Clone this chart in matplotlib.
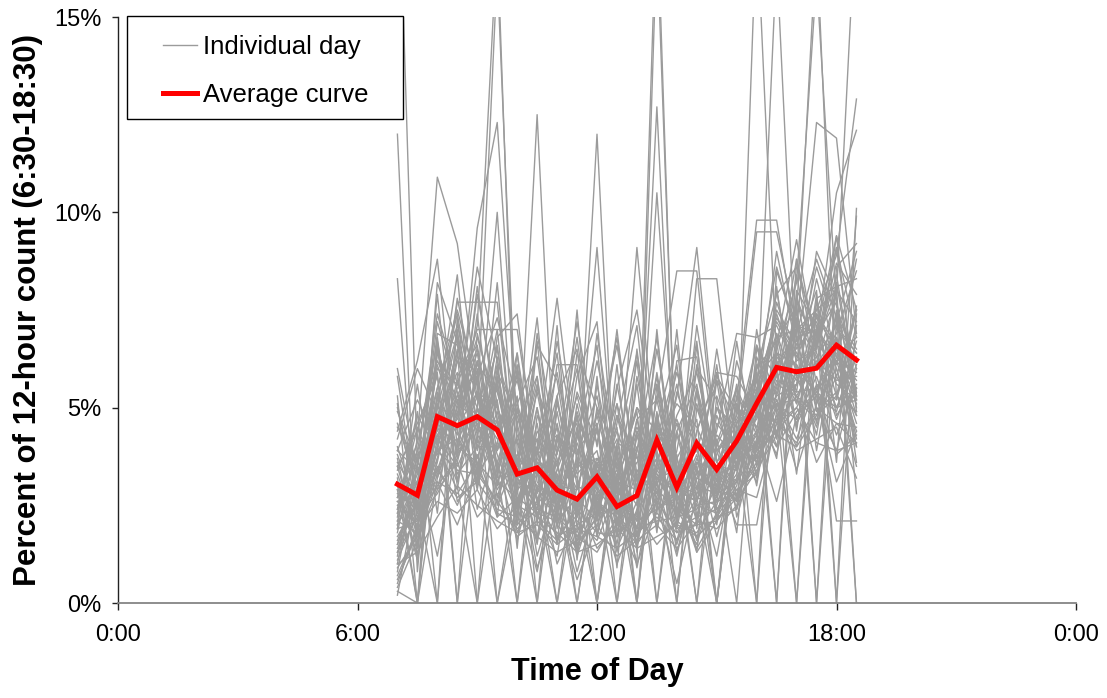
import matplotlib
matplotlib.use("Agg")
import matplotlib.pyplot as plt
import matplotlib.patches as patches
from matplotlib.lines import Line2D

plt.rcParams['font.family'] = ['Liberation Sans', 'DejaVu Sans']

# half-hour end times, hours after midnight
half_hours = [7.0, 7.5, 8.0, 8.5, 9.0, 9.5, 10.0, 10.5, 11.0, 11.5, 12.0, 12.5,
              13.0, 13.5, 14.0, 14.5, 15.0, 15.5, 16.0, 16.5, 17.0, 17.5, 18.0, 18.5]

# percent of the 12-hour count in each half hour
average_curve = [3.04, 2.76, 4.77, 4.54, 4.77, 4.43, 3.30, 3.46, 2.89, 2.66, 3.23, 2.47,
                 2.75, 4.17, 2.96, 4.09, 3.42, 4.15, 5.11, 6.03, 5.92, 6.01, 6.60, 6.22]

day_01 = [3.1, 1.2, 6.4, 5.2, 2.9, 5.8, 3.6, 1.7, 4.3, 2.4, 4.6, 1.3, 3.9, 5.6, 2.0, 5.4, 2.1, 4.4, 6.6, 4.3, 7.9, 5.1, 8.2, 5.2]
day_02 = [2.2, 4.8, 3.9, 6.3, 5.9, 2.7, 4.6, 2.3, 1.2, 4.4, 2.5, 3.6, 1.4, 4.6, 3.7, 2.1, 5.0, 3.8, 4.1, 8.0, 5.1, 7.0, 5.3, 7.6]
day_03 = [12.0, 0.8, 6.5, 3.3, 4.0, 6.1, 2.0, 4.4, 3.6, 1.2, 2.8, 3.4, 1.9, 4.9, 2.2, 3.7, 2.6, 5.1, 4.0, 5.3, 7.2, 6.3, 4.7, 6.1]
day_04 = [0.5, 2.0, 3.6, 6.2, 5.0, 3.2, 6.0, 1.6, 3.4, 4.8, 1.7, 3.9, 0.9, 3.5, 5.6, 2.9, 4.2, 1.8, 6.5, 5.8, 8.8, 6.0, 9.4, 4.9]
day_05 = [4.6, 3.0, 7.2, 5.4, 3.7, 5.2, 1.8, 2.9, 5.1, 3.3, 3.9, 1.5, 4.3, 2.4, 2.7, 6.1, 3.1, 5.6, 3.2, 6.9, 4.5, 7.7, 6.0, 4.4]
day_06 = [20.0, 3.5, 1.2, 4.1, 5.4, 2.5, 3.7, 0.9, 2.4, 4.5, 1.8, 3.3, 2.5, 4.6, 1.3, 3.2, 2.9, 5.1, 3.0, 6.2, 4.6, 5.5, 3.8, 4.3]
day_07 = [8.3, 1.5, 4.0, 2.9, 6.2, 4.4, 2.2, 5.0, 2.6, 1.3, 3.6, 1.7, 4.7, 2.8, 3.3, 1.6, 4.6, 3.9, 5.2, 3.7, 7.8, 6.5, 8.7, 7.9]
day_08 = [1.8, 4.2, 10.9, 9.2, 5.5, 3.8, 2.4, 4.6, 1.6, 2.5, 3.1, 4.2, 1.5, 3.6, 2.6, 1.4, 2.3, 3.8, 5.7, 4.0, 6.8, 4.6, 7.5, 5.3]
day_09 = [2.9, 0.0, 3.2, 4.8, 7.1, 17.0, 2.5, 3.3, 2.0, 1.4, 2.2, 3.0, 1.8, 2.7, 1.6, 3.4, 2.8, 3.1, 3.9, 4.7, 5.8, 4.5, 6.6, 4.8]
day_10 = [3.6, 2.7, 5.3, 4.3, 9.6, 12.3, 4.5, 1.2, 3.0, 1.8, 3.4, 2.3, 1.6, 3.2, 2.4, 1.5, 3.3, 2.6, 4.1, 5.2, 3.4, 5.1, 6.0, 4.0]
day_11 = [1.2, 3.8, 4.4, 7.7, 7.7, 7.7, 3.0, 4.0, 1.5, 3.6, 2.9, 1.0, 2.4, 3.1, 1.2, 3.6, 3.4, 2.9, 2.7, 4.6, 5.3, 3.6, 4.6, 4.1]
day_12 = [2.5, 3.1, 6.0, 5.6, 7.0, 7.0, 7.0, 3.6, 3.2, 0.8, 2.6, 2.2, 1.0, 2.4, 2.8, 1.7, 2.2, 3.5, 4.3, 2.6, 4.8, 5.3, 3.1, 4.4]
day_13 = [5.1, 2.2, 3.0, 3.7, 4.9, 16.2, 3.9, 1.5, 4.9, 2.2, 3.6, 2.7, 4.0, 1.9, 4.3, 2.5, 2.6, 2.8, 3.5, 4.8, 3.9, 4.2, 4.5, 3.2]
day_14 = [1.6, 2.9, 4.7, 6.8, 4.1, 10.0, 2.8, 12.5, 2.1, 2.7, 1.4, 2.0, 1.7, 2.6, 1.9, 2.2, 2.4, 2.7, 3.8, 4.4, 5.0, 4.1, 3.9, 4.1]
day_15 = [3.4, 4.6, 5.8, 2.6, 3.2, 5.6, 3.4, 2.4, 6.1, 6.1, 2.3, 4.8, 2.7, 5.9, 2.9, 2.6, 5.0, 4.5, 3.3, 5.4, 7.3, 4.9, 5.4, 3.5]
day_16 = [0.9, 1.7, 3.3, 5.0, 6.4, 3.5, 2.3, 5.5, 4.0, 2.9, 12.0, 1.8, 2.3, 4.8, 2.6, 3.8, 1.7, 3.6, 6.1, 4.9, 5.6, 7.4, 4.8, 5.6]
day_17 = [4.0, 2.4, 5.1, 3.9, 5.3, 4.6, 3.3, 2.7, 2.3, 3.4, 9.1, 2.5, 9.1, 3.6, 1.8, 2.7, 2.5, 4.1, 3.6, 5.1, 4.7, 5.8, 4.3, 5.5]
day_18 = [2.0, 3.3, 4.2, 3.5, 4.6, 2.9, 3.8, 3.0, 2.7, 2.1, 1.6, 2.9, 2.1, 18.0, 2.4, 2.0, 3.0, 2.6, 3.4, 4.3, 4.0, 4.8, 5.3, 4.9]
day_19 = [3.3, 1.9, 4.5, 6.4, 3.9, 5.7, 2.6, 4.2, 2.4, 0.6, 2.0, 3.2, 1.0, 17.0, 2.8, 1.3, 2.1, 2.9, 3.3, 4.6, 4.1, 5.0, 4.6, 4.5]
day_20 = [1.4, 2.6, 3.9, 4.2, 3.3, 4.1, 3.2, 2.3, 3.1, 1.7, 2.7, 1.4, 2.6, 12.7, 2.2, 3.0, 2.8, 3.6, 4.1, 5.7, 5.4, 5.5, 6.4, 5.7]
day_21 = [2.7, 3.9, 5.0, 4.8, 6.2, 3.3, 4.9, 3.8, 5.9, 3.0, 4.4, 2.6, 2.2, 10.5, 3.1, 5.5, 2.4, 3.2, 4.4, 5.1, 5.2, 4.7, 5.8, 4.8]
day_22 = [3.8, 2.3, 4.3, 3.1, 5.0, 4.2, 4.1, 2.6, 4.2, 3.8, 5.3, 2.3, 4.7, 5.2, 8.5, 8.5, 3.6, 3.1, 4.8, 4.0, 4.9, 5.4, 5.0, 5.2]
day_23 = [2.4, 3.7, 3.8, 5.3, 4.8, 3.9, 5.1, 3.4, 5.3, 2.3, 4.9, 3.2, 4.5, 3.4, 2.7, 8.3, 8.3, 3.7, 4.0, 5.6, 5.3, 6.2, 5.7, 5.8]
day_24 = [1.9, 2.1, 4.6, 4.0, 3.6, 3.0, 3.5, 5.8, 1.9, 4.8, 2.1, 5.1, 3.2, 3.0, 5.3, 9.1, 3.9, 4.3, 4.7, 6.3, 5.7, 6.6, 6.2, 5.5]
day_25 = [1.0, 1.3, 2.2, 3.0, 2.5, 2.1, 1.8, 2.0, 1.5, 1.9, 1.7, 1.4, 1.8, 2.2, 1.6, 2.5, 2.3, 3.1, 17.5, 6.2, 5.1, 7.0, 6.3, 6.8]
day_26 = [2.6, 2.0, 3.4, 2.7, 3.1, 2.4, 2.2, 1.7, 1.3, 1.6, 2.0, 1.2, 1.6, 2.0, 1.4, 2.1, 1.9, 2.5, 4.9, 16.5, 5.8, 6.3, 7.1, 6.4]
day_27 = [0.7, 1.9, 2.6, 2.3, 2.9, 1.9, 2.5, 2.2, 1.8, 1.3, 1.5, 1.9, 1.4, 1.7, 2.0, 1.8, 2.6, 3.3, 5.3, 4.6, 7.4, 17.0, 5.2, 7.5]
day_28 = [1.5, 2.8, 3.1, 2.0, 3.4, 2.6, 1.9, 2.4, 2.2, 1.7, 1.3, 2.2, 1.5, 2.3, 1.8, 2.0, 2.1, 2.7, 4.2, 6.5, 8.2, 16.0, 7.6, 6.0]
day_29 = [0.4, 1.6, 2.9, 3.6, 2.2, 2.8, 1.7, 2.1, 1.6, 2.4, 1.8, 1.7, 2.3, 1.5, 2.1, 1.7, 2.2, 2.4, 3.9, 4.4, 5.6, 6.1, 7.9, 18.0]
day_30 = [2.8, 2.4, 3.7, 5.2, 3.0, 4.7, 2.4, 3.5, 1.0, 2.2, 4.5, 1.8, 3.4, 2.8, 4.6, 3.1, 1.2, 4.0, 5.4, 6.8, 7.0, 12.3, 11.9, 6.9]
day_31 = [1.3, 2.2, 2.8, 3.8, 4.7, 3.1, 2.7, 0.8, 3.3, 1.5, 2.2, 4.0, 1.7, 2.6, 0.5, 2.8, 3.5, 3.4, 5.1, 7.2, 6.3, 7.5, 8.9, 12.9]
day_32 = [2.1, 1.8, 3.5, 2.5, 3.8, 2.3, 2.0, 2.6, 1.7, 2.0, 2.3, 2.4, 1.9, 2.1, 2.2, 2.4, 3.4, 4.2, 6.0, 7.9, 8.6, 6.8, 10.5, 12.1]
day_33 = [3.0, 2.1, 3.9, 3.4, 3.3, 2.6, 4.3, 2.9, 2.4, 4.1, 2.6, 2.0, 4.3, 2.9, 2.4, 3.3, 4.0, 5.2, 9.8, 9.8, 6.7, 7.3, 6.5, 5.1]
day_34 = [2.3, 1.7, 3.1, 2.8, 3.6, 2.2, 2.7, 2.3, 2.1, 2.7, 2.1, 2.6, 2.1, 2.4, 2.9, 2.6, 3.8, 4.8, 9.5, 9.5, 7.1, 6.9, 7.7, 5.0]
day_35 = [4.9, 3.6, 5.5, 7.1, 5.2, 4.5, 5.8, 3.7, 3.1, 4.9, 3.2, 3.0, 5.0, 4.4, 3.4, 3.9, 5.7, 4.6, 5.5, 5.2, 4.2, 5.6, 2.1, 2.1]
day_36 = [3.5, 4.4, 6.2, 5.1, 4.7, 6.5, 3.4, 4.2, 3.5, 5.3, 3.4, 2.7, 3.6, 4.0, 5.1, 4.5, 3.3, 2.0, 2.0, 4.9, 5.9, 6.0, 6.8, 5.4]
day_37 = [2.9, 3.1, 4.8, 4.5, 5.4, 5.0, 3.7, 3.3, 2.9, 3.5, 3.7, 3.1, 2.9, 4.3, 3.0, 4.1, 3.9, 4.7, 5.8, 6.4, 6.1, 5.3, 7.4, 0.0]
day_38 = [1.7, 2.6, 0.0, 5.8, 6.6, 3.4, 0.0, 4.8, 3.7, 0.0, 3.5, 2.9, 0.0, 4.5, 3.5, 0.0, 4.1, 5.5, 0.0, 6.7, 7.6, 0.0, 8.6, 9.2]
day_39 = [0.3, 0.0, 5.4, 0.0, 4.3, 6.6, 2.9, 0.0, 5.2, 2.5, 0.0, 4.1, 3.8, 0.0, 4.4, 2.7, 0.0, 4.6, 5.9, 0.0, 8.0, 7.1, 0.0, 10.1]
day_40 = [5.3, 0.0, 6.8, 3.0, 0.0, 5.9, 4.8, 2.7, 0.0, 3.9, 4.6, 0.0, 4.4, 3.1, 0.0, 5.0, 3.4, 0.0, 6.3, 5.0, 0.0, 7.8, 8.1, 8.3]
day_41 = [2.4, 4.9, 0.0, 7.3, 3.5, 0.0, 3.3, 5.4, 2.8, 0.0, 3.3, 4.5, 0.0, 5.6, 3.2, 4.2, 0.0, 5.0, 3.7, 6.1, 0.0, 6.9, 9.4, 7.5]
day_42 = [0.8, 3.5, 5.9, 0.0, 6.9, 4.7, 0.0, 3.8, 4.3, 3.2, 0.0, 3.3, 4.9, 0.0, 3.8, 0.0, 5.3, 3.9, 0.0, 8.5, 7.0, 0.0, 7.2, 9.0]
day_43 = [3.9, 5.2, 4.1, 6.5, 0.0, 3.6, 5.3, 0.0, 3.9, 4.6, 0.0, 3.8, 0.0, 4.8, 0.0, 5.5, 3.6, 4.4, 5.3, 0.0, 8.8, 6.6, 8.1, 0.0]
day_44 = [1.1, 2.3, 4.0, 5.5, 5.8, 0.0, 2.6, 3.9, 2.0, 3.7, 2.8, 0.0, 3.4, 3.3, 2.9, 3.5, 0.0, 4.2, 5.0, 7.5, 6.6, 8.0, 0.0, 7.4]
day_45 = [6.0, 3.3, 5.2, 7.4, 4.5, 4.4, 5.7, 3.4, 3.3, 1.6, 2.8, 4.4, 3.0, 3.7, 4.6, 3.4, 2.9, 3.9, 6.6, 5.3, 5.6, 8.3, 6.3, 5.9]
day_46 = [2.6, 2.8, 6.9, 6.6, 4.3, 3.6, 1.6, 3.6, 2.7, 4.3, 2.9, 2.3, 2.8, 3.7, 1.5, 3.2, 4.3, 3.7, 4.4, 7.7, 6.2, 6.5, 9.1, 5.3]
day_47 = [3.7, 1.4, 4.2, 4.7, 6.1, 5.4, 3.5, 5.6, 3.0, 2.9, 4.8, 2.8, 2.7, 5.2, 2.8, 3.6, 2.7, 5.5, 4.3, 5.5, 8.4, 5.6, 5.2, 7.1]
day_48 = [1.5, 3.0, 3.4, 4.9, 3.1, 6.0, 3.2, 2.5, 4.6, 2.2, 3.7, 2.6, 4.4, 3.2, 3.4, 5.1, 3.3, 3.5, 5.7, 8.6, 6.8, 7.0, 6.1, 8.8]
day_49 = [5.8, 2.4, 7.9, 3.1, 6.0, 2.2, 6.4, 2.0, 7.1, 1.1, 5.8, 0.9, 6.5, 2.3, 7.0, 1.9, 5.7, 2.6, 7.0, 4.2, 7.6, 3.9, 6.8, 4.0]
day_50 = [1.9, 5.6, 2.3, 7.0, 3.0, 6.3, 1.4, 6.7, 2.1, 7.5, 1.7, 6.1, 1.3, 7.0, 2.0, 6.6, 2.8, 6.7, 3.5, 8.1, 4.4, 7.9, 3.6, 9.9]
day_51 = [0.6, 1.8, 8.2, 6.7, 3.5, 4.9, 2.6, 1.6, 5.3, 6.5, 2.4, 5.5, 7.5, 3.9, 1.9, 4.4, 5.8, 4.9, 3.9, 6.6, 9.3, 6.4, 5.0, 6.3]
day_52 = [4.2, 6.0, 4.8, 5.9, 2.4, 4.1, 6.4, 3.1, 2.5, 5.8, 7.2, 2.0, 5.6, 1.8, 6.2, 6.3, 2.2, 3.0, 5.3, 6.9, 5.4, 9.0, 7.8, 2.8]
day_53 = [2.1, 3.9, 6.7, 3.8, 7.4, 3.4, 5.9, 2.1, 4.1, 6.0, 2.2, 5.6, 2.9, 6.5, 3.5, 1.3, 5.9, 5.8, 4.8, 6.1, 6.9, 8.8, 7.3, 6.5]
day_54 = [3.2, 0.0, 5.0, 6.9, 4.7, 5.5, 2.9, 3.4, 0.0, 3.0, 2.7, 3.2, 2.1, 5.3, 3.7, 4.7, 0.0, 4.3, 5.4, 7.4, 5.9, 6.7, 9.1, 6.8]
day_55 = [1.3, 2.7, 4.5, 3.6, 5.8, 7.3, 5.1, 6.3, 2.8, 5.4, 4.1, 6.6, 3.3, 2.7, 5.4, 3.9, 2.6, 2.8, 3.6, 5.0, 7.7, 6.6, 8.4, 5.3]
day_56 = [4.5, 3.6, 2.9, 5.1, 6.8, 5.0, 3.6, 6.6, 5.7, 2.5, 6.9, 3.4, 5.0, 3.8, 2.1, 4.4, 5.9, 3.7, 4.9, 4.6, 5.0, 6.1, 6.9, 8.5]
day_57 = [2.7, 4.1, 6.1, 4.4, 3.4, 8.2, 2.8, 5.0, 1.6, 5.1, 2.9, 4.8, 3.7, 4.2, 6.1, 2.6, 4.4, 6.9, 6.8, 7.1, 6.0, 5.4, 6.2, 4.6]
day_58 = [3.0, 1.1, 3.7, 5.7, 4.0, 4.0, 4.9, 3.9, 6.4, 1.9, 5.0, 3.9, 6.4, 3.0, 4.8, 5.9, 3.6, 4.6, 5.2, 9.0, 6.5, 7.2, 5.8, 7.5]
day_59 = [0.2, 2.9, 5.5, 7.5, 5.6, 3.1, 4.2, 2.2, 3.6, 4.7, 3.5, 5.1, 1.7, 3.4, 4.7, 3.3, 6.1, 2.2, 4.0, 5.9, 7.0, 7.5, 8.0, 7.2]
day_60 = [3.9, 3.4, 4.3, 5.3, 6.5, 3.9, 6.1, 2.8, 4.5, 1.4, 5.6, 3.0, 6.2, 1.9, 3.9, 6.7, 2.0, 5.3, 4.5, 5.8, 6.2, 8.6, 7.0, 6.4]
day_61 = [4.4, 6.2, 8.8, 4.0, 7.9, 5.1, 2.0, 6.9, 3.8, 7.2, 4.0, 6.8, 3.1, 5.8, 2.6, 7.1, 3.9, 2.4, 4.9, 3.8, 6.1, 4.3, 7.4, 3.6]
day_62 = [2.0, 3.1, 5.0, 8.4, 3.2, 6.8, 7.4, 3.3, 6.7, 3.9, 2.1, 4.6, 7.1, 2.5, 4.4, 5.6, 2.7, 4.0, 3.1, 6.4, 5.3, 4.8, 6.3, 5.5]
day_63 = [3.5, 1.7, 6.6, 3.7, 8.1, 4.7, 3.5, 7.3, 2.2, 6.4, 5.0, 2.9, 3.9, 6.8, 3.0, 2.8, 6.5, 3.4, 5.8, 4.2, 7.1, 5.0, 3.9, 6.0]
day_64 = [1.0, 3.6, 7.4, 5.6, 4.4, 7.0, 2.4, 4.0, 7.8, 3.6, 6.2, 3.7, 1.9, 4.0, 5.9, 4.1, 3.0, 6.2, 4.4, 5.1, 4.0, 6.9, 5.6, 5.2]
day_65 = [5.0, 2.8, 4.0, 7.8, 5.3, 3.0, 5.0, 2.6, 3.4, 6.8, 3.0, 7.0, 2.7, 4.6, 6.6, 2.2, 4.8, 3.5, 6.0, 6.7, 3.3, 7.4, 6.6, 4.2]
day_66 = [2.3, 4.5, 3.2, 4.8, 8.6, 6.2, 4.6, 5.8, 2.3, 4.2, 6.6, 1.7, 5.8, 3.3, 2.2, 6.0, 5.2, 2.7, 5.5, 7.3, 6.4, 5.3, 4.9, 6.7]

days = [day_01, day_02, day_03, day_04, day_05, day_06, day_07, day_08, day_09, day_10,
        day_11, day_12, day_13, day_14, day_15, day_16, day_17, day_18, day_19, day_20,
        day_21, day_22, day_23, day_24, day_25, day_26, day_27, day_28, day_29, day_30,
        day_31, day_32, day_33, day_34, day_35, day_36, day_37, day_38, day_39, day_40,
        day_41, day_42, day_43, day_44, day_45, day_46, day_47, day_48, day_49, day_50,
        day_51, day_52, day_53, day_54, day_55, day_56, day_57, day_58, day_59, day_60,
        day_61, day_62, day_63, day_64, day_65, day_66]

x_ticks = [0, 6, 12, 18, 24]
x_tick_labels = ['0:00', '6:00', '12:00', '18:00', '0:00']
y_ticks = [0, 5, 10, 15]
y_tick_labels = ['0%', '5%', '10%', '15%']

fig = plt.figure(figsize=(11.07, 6.98), dpi=100)
ax = fig.add_axes([118 / 1107, 95 / 698, 958 / 1107, 586 / 698])

gray = '#9b9b9b'
for d in days:
    ax.plot(half_hours, d, color=gray, linewidth=1.0, zorder=2)
ax.plot(half_hours, average_curve, color='#ff0000', linewidth=3.6,
        solid_joinstyle='miter', zorder=3)

ax.set_xlim(0, 24)
ax.set_ylim(0, 15)
ax.set_xticks(x_ticks)
ax.set_xticklabels(x_tick_labels)
ax.set_yticks(y_ticks)
ax.set_yticklabels(y_tick_labels)

for s in ['top', 'right']:
    ax.spines[s].set_visible(False)
ax.spines['left'].set_color('#222222')
ax.spines['bottom'].set_color('#858585')
ax.spines['left'].set_linewidth(1.0)
ax.spines['bottom'].set_linewidth(1.3)
ax.tick_params(axis='x', direction='out', length=5, width=1.0, color='#222222',
               labelsize=17, pad=10)
ax.tick_params(axis='y', direction='out', length=4, width=1.0, color='#222222',
               labelsize=17, pad=8)

ax.set_xlabel('Time of Day', fontsize=22, fontweight='bold', labelpad=8)
ax.set_ylabel('Percent of 12-hour count (6:30-18:30)', fontsize=22.5,
              fontweight='bold', labelpad=8)

# legend frame drawn separately so its size matches the original box
frame = patches.Rectangle((127 / 1107, (698 - 119) / 698), 276 / 1107, 103 / 698,
                          transform=fig.transFigure, facecolor='white',
                          edgecolor='black', linewidth=1.0, zorder=4, clip_on=False)
ax.add_patch(frame)

handles = [Line2D([], [], color=gray, linewidth=1.0),
           Line2D([], [], color='#ff0000', linewidth=3.6)]
leg = ax.legend(handles, ['Individual day', 'Average curve'], loc='upper left',
                bbox_to_anchor=(22 / 958, 1.008), frameon=False, fontsize=18.5,
                handlelength=1.3, handletextpad=0.25, labelspacing=0.9,
                borderpad=0.4)
leg.set_zorder(5)

fig.savefig('out.png', dpi=100)
